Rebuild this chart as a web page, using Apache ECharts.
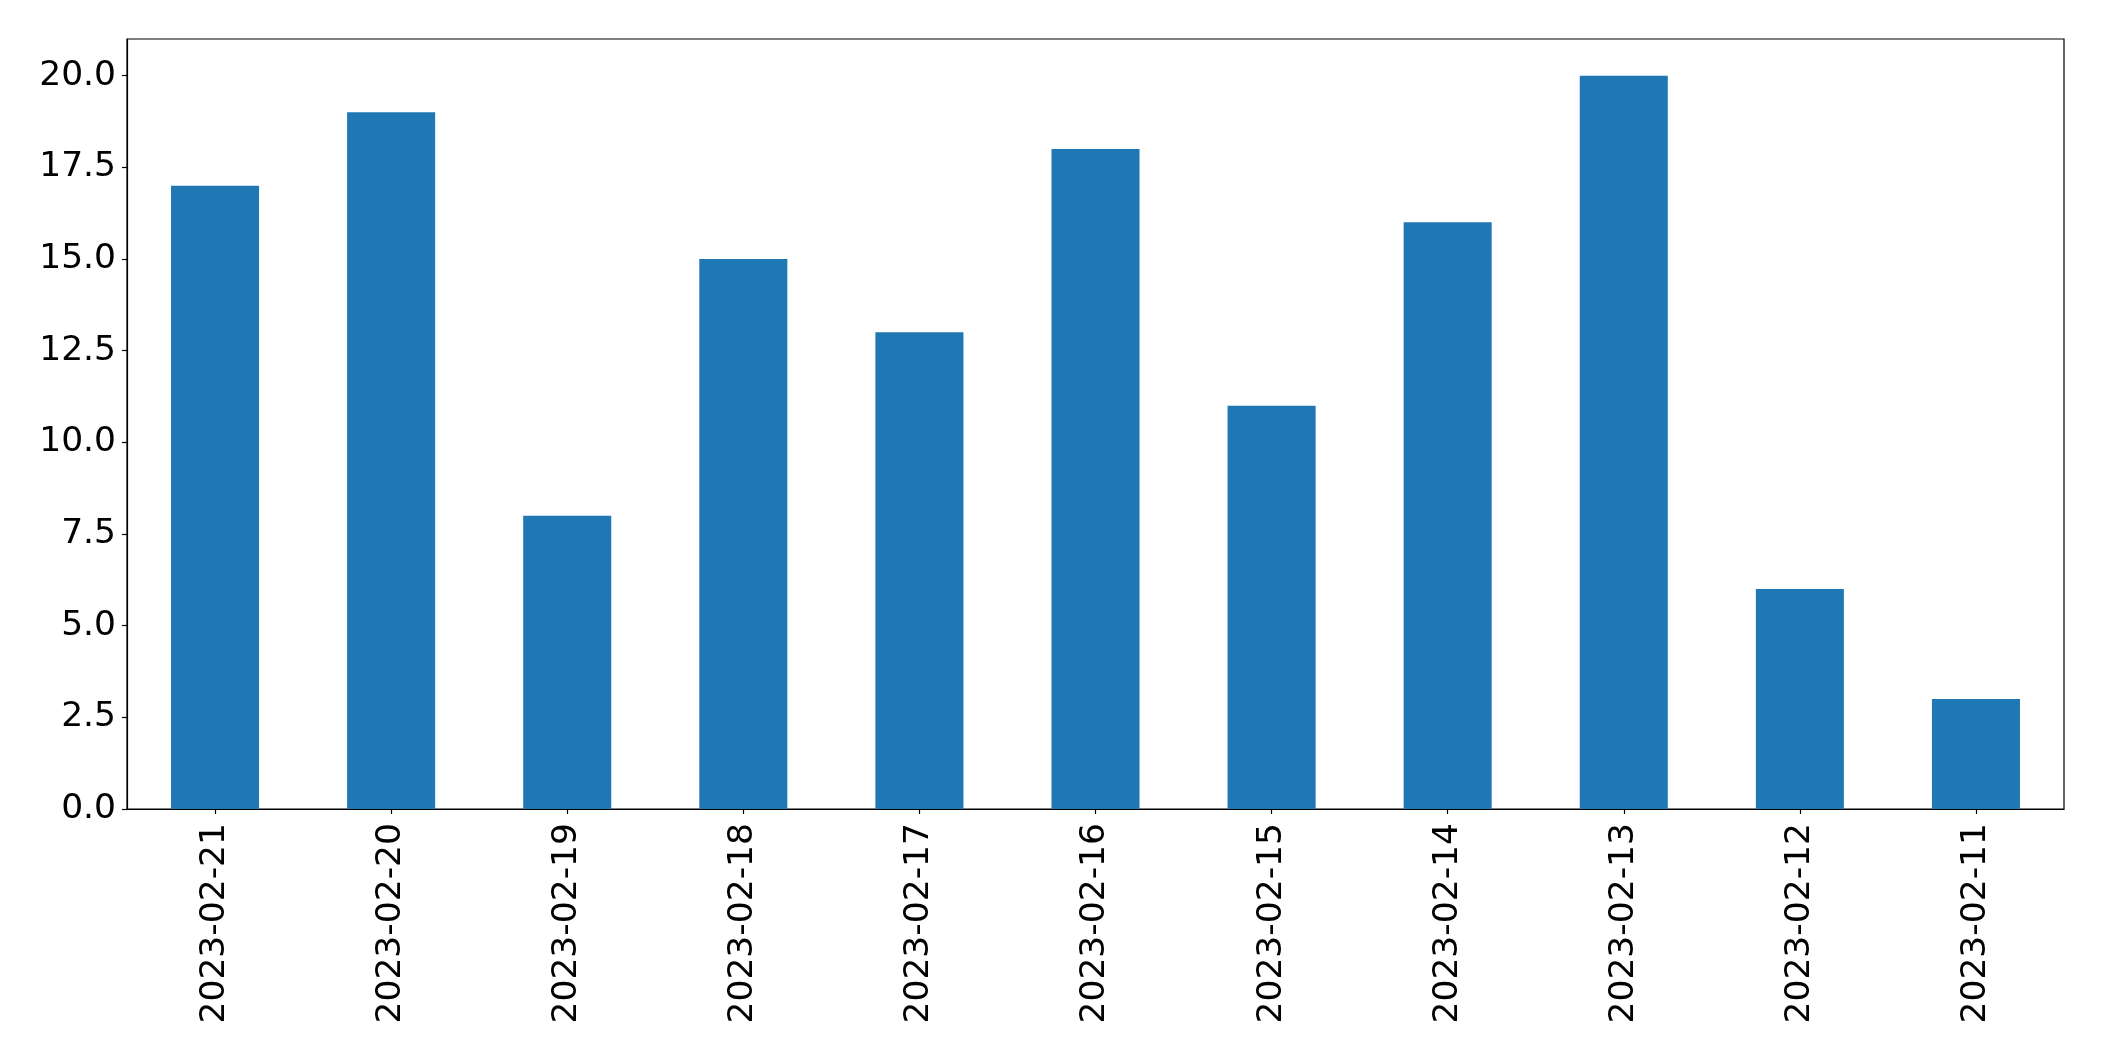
<!DOCTYPE html>
<html>
<head>
<meta charset="utf-8">
<script src="https://cdn.jsdelivr.net/npm/echarts@6/dist/echarts.min.js"></script>
<style>
html,body{margin:0;padding:0;background:#fff;}
#chart{width:2104px;height:1061px;}
</style>
</head>
<body>
<div id="chart"></div>
<script>
const categories = ["2023-02-21","2023-02-20","2023-02-19","2023-02-18","2023-02-17","2023-02-16","2023-02-15","2023-02-14","2023-02-13","2023-02-12","2023-02-11"];
const values = [17,19,8,15,13,18,11,16,20,6,3];
const yMin = 0, yMax = 21, yInterval = 2.5;

const chart = echarts.init(document.getElementById('chart'), null, {renderer:'canvas'});
const font = 'DejaVu Sans';
chart.setOption({
  animation:false,
  backgroundColor:'#fff',
  grid:{left:127,right:40,top:39,bottom:252,show:true,borderColor:'#000',borderWidth:1.2,backgroundColor:'transparent'},
  xAxis:{
    type:'category',
    data:categories,
    boundaryGap:true,
    axisLine:{show:true,lineStyle:{color:'#000',width:1.2}},
    axisTick:{show:true,alignWithLabel:true,length:5,lineStyle:{color:'#000',width:1.2}},
    axisLabel:{rotate:90,interval:0,margin:14,fontFamily:font,fontSize:34.5,color:'#000'},
    splitLine:{show:false}
  },
  yAxis:{
    type:'value',
    min:yMin,max:yMax,interval:yInterval,
    axisLine:{show:true,lineStyle:{color:'#000',width:1.2}},
    axisTick:{show:true,length:5,lineStyle:{color:'#000',width:1.2}},
    axisLabel:{margin:11,fontFamily:font,fontSize:34.5,color:'#000',showMaxLabel:false,formatter:v=>v.toFixed(1)},
    splitLine:{show:false}
  },
  series:[{
    type:'bar',
    data:values,
    barWidth:'50%',
    itemStyle:{color:'#1f77b4'}
  }]
});
</script>
</body>
</html>
